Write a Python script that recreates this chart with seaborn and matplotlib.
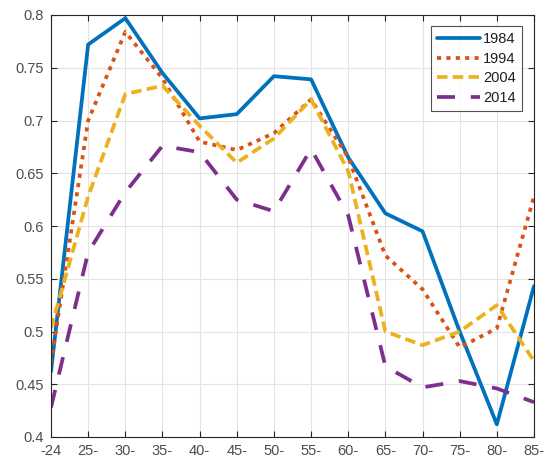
import matplotlib
matplotlib.use("Agg")
import matplotlib.pyplot as plt
import seaborn as sns
import pandas as pd

categories = ["-24", "25-", "30-", "35-", "40-", "45-", "50-", "55-", "60-", "65-", "70-", "75-", "80-", "85-"]
y1984 = [0.462, 0.772, 0.797, 0.745, 0.702, 0.706, 0.742, 0.739, 0.665, 0.612, 0.595, 0.500, 0.412, 0.543]
y1994 = [0.470, 0.700, 0.784, 0.740, 0.680, 0.672, 0.688, 0.720, 0.665, 0.572, 0.540, 0.485, 0.503, 0.628]
y2004 = [0.503, 0.628, 0.725, 0.733, 0.695, 0.660, 0.683, 0.720, 0.652, 0.500, 0.487, 0.500, 0.525, 0.472]
y2014 = [0.428, 0.575, 0.632, 0.676, 0.670, 0.625, 0.614, 0.673, 0.610, 0.467, 0.447, 0.453, 0.446, 0.433]
years = ["1984", "1994", "2004", "2014"]
colors = ["#0072BD", "#D95319", "#EDB120", "#7E2F8E"]

series = [y1984, y1994, y2004, y2014]
df = pd.concat([pd.DataFrame({"age": categories, "pos": range(len(categories)), "value": s, "year": yr})
                for s, yr in zip(series, years)], ignore_index=True)

sns.set_style("white")
plt.rcParams['font.family'] = ['Liberation Sans', 'DejaVu Sans']

fig = plt.figure(figsize=(5.51, 4.66), dpi=100)
ax = fig.add_axes([51/551, 1-437/466, (534-51)/551, (437-15)/466])

dashes = [None, (1.1, 1.4), (2.8, 1.4), (4.8, 4.2)]
for yr, col, ds in zip(years, colors, dashes):
    sub = df[df["year"] == yr]
    sns.lineplot(data=sub, x="pos", y="value", ax=ax, color=col, linewidth=2.7, label=yr)
    l = ax.lines[-1]
    if ds is not None:
        l.set_dashes(ds)
        l.set_dash_capstyle("butt")

ax.set_xlim(0, len(categories) - 1)
ax.set_ylim(0.4, 0.8)
ax.set_xticks(range(len(categories)))
ax.set_xticklabels(categories)
yt = [0.4, 0.45, 0.5, 0.55, 0.6, 0.65, 0.7, 0.75, 0.8]
ax.set_yticks(yt)
ax.set_yticklabels(["0.4", "0.45", "0.5", "0.55", "0.6", "0.65", "0.7", "0.75", "0.8"])
ax.set_xlabel("")
ax.set_ylabel("")
ax.grid(True, color="#e3e3e3", linewidth=0.8)
ax.set_axisbelow(True)
for sp in ax.spines.values():
    sp.set_color("#262626")
    sp.set_linewidth(0.8)
ax.tick_params(direction="in", length=4, width=0.8, color="#262626", labelcolor="#4d4d4d",
               labelsize=10.5, top=True, right=True, bottom=True, left=True, pad=5)

leg = ax.legend(loc="upper right", bbox_to_anchor=(0.975, 0.974), frameon=True, fancybox=False,
                edgecolor="#262626", fontsize=10.5, handlelength=3.0, handletextpad=0.2,
                borderpad=0.4, labelspacing=0.4, borderaxespad=0.0)
leg.get_frame().set_linewidth(0.8)
for t in leg.get_texts():
    t.set_color("#202020")

fig.savefig("out.png", dpi=100)
